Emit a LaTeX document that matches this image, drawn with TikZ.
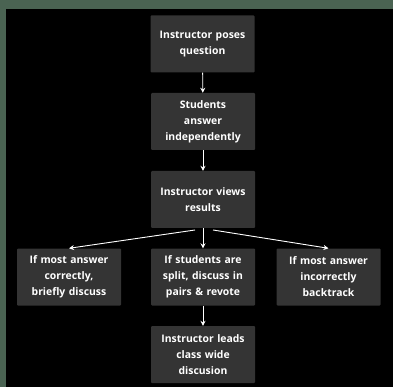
\documentclass[tikz,border=0pt]{standalone}
\usepackage{fontspec}
\setmainfont{Open Sans}
\usetikzlibrary{arrows.meta}
\definecolor{frame}{HTML}{4A6352}
\definecolor{boxfill}{HTML}{343434}
\begin{document}
\begin{tikzpicture}[x=1pt,y=-1pt,
  stepbox/.style={fill=boxfill, rounded corners=1pt, minimum width=104pt, minimum height=57pt,
    text width=102pt, align=center, inner sep=0pt, text=white,
    font=\fontsize{10.4}{16}\selectfont\bfseries},
  conn/.style={draw=white, line width=0.9pt, -{Stealth[length=5pt,width=5pt]}}]
\fill[frame] (0,0) rectangle (393,387);
\fill[black] (6,9) rectangle (393,387);
\useasboundingbox (0,0) rectangle (393,387);
\node[stepbox] (q) at (202.5,44) {Instructor poses\\question};
\node[stepbox] (a) at (203,121.5) {Students\\answer\\independently};
\node[stepbox] (v) at (203,199.5) {Instructor views\\results};
\node[stepbox] (l) at (69,277) {If most answer\\correctly,\\briefly discuss};
\node[stepbox] (m) at (203,277) {If students are\\split, discuss in\\pairs \& revote};
\node[stepbox] (r) at (328.5,277) {If most answer\\incorrectly\\backtrack};
\node[stepbox] (d) at (203,354.5) {Instructor leads\\class wide\\discusion};
\coordinate (vl) at (195,230);
\coordinate (vr) at (213,230);
\draw[conn] (q) -- (a);
\draw[conn] (a) -- (v);
\draw[conn] (v) -- (m);
\draw[conn] (vl) -- (l.north);
\draw[conn] (vr) -- (r.north);
\draw[conn] (m) -- (d);
\end{tikzpicture}
\end{document}
